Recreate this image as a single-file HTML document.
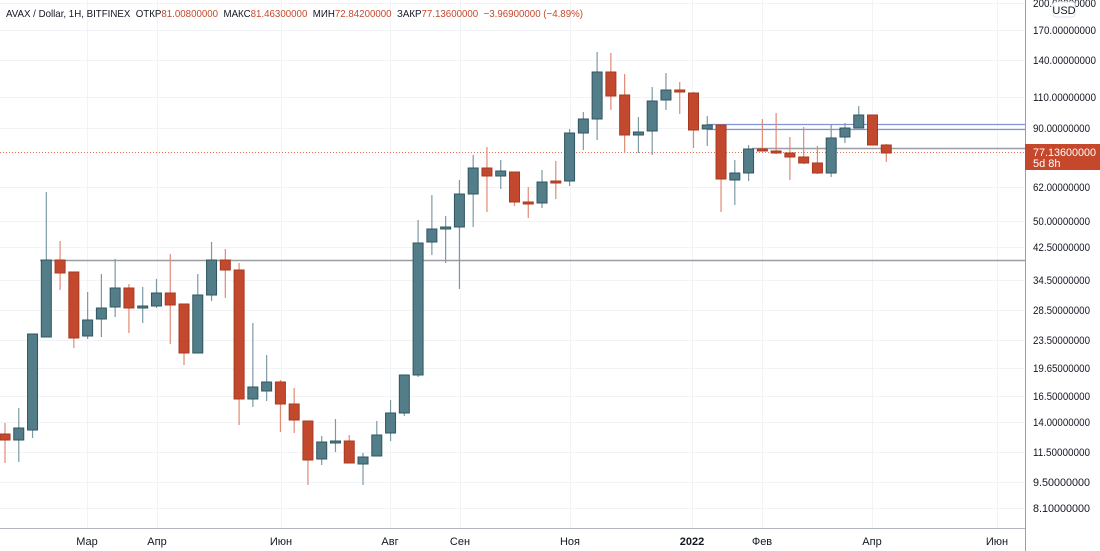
<!DOCTYPE html>
<html><head><meta charset="utf-8"><style>
html,body{margin:0;padding:0;background:#fff;width:1100px;height:551px;overflow:hidden}
svg{display:block;font-family:"Liberation Sans",sans-serif}
</style></head><body>
<svg id="s" width="1100" height="551" xmlns="http://www.w3.org/2000/svg">
<rect width="1100" height="551" fill="#fff"/>
<g id="grid" stroke="#f1f3f6" stroke-width="1"></g>
<g id="lines"></g>
<g id="candles"></g>
<line x1="1025.5" y1="0" x2="1025.5" y2="551" stroke="#9b9ea5" stroke-width="1"/>
<line x1="0" y1="528.5" x2="1025" y2="528.5" stroke="#b2b5be" stroke-width="1"/>
<g id="ylab" font-size="11" fill="#131722"></g>
<g id="xlab" font-size="11" fill="#131722" text-anchor="middle"></g>
<rect x="1053" y="2" width="22" height="15" rx="3" fill="#fff" stroke="#e0e3eb"/>
<text x="1064" y="14" font-size="11" fill="#131722" text-anchor="middle">USD</text>
<rect x="1025" y="144" width="75" height="26" fill="#c5482c"/>
<text x="1033" y="156" font-size="11" fill="#fff" textLength="63" lengthAdjust="spacingAndGlyphs">77.13600000</text>
<text x="1033" y="167" font-size="11" fill="#fff">5d 8h</text>
<text x="6" y="17" font-size="10.5" fill="#131722" textLength="577" lengthAdjust="spacingAndGlyphs" xml:space="preserve">AVAX / Dollar, 1H, BITFINEX  ОТКР<tspan fill="#c5482c">81.00800000</tspan>  МАКС<tspan fill="#c5482c">81.46300000</tspan>  МИН<tspan fill="#c5482c">72.84200000</tspan>  ЗАКР<tspan fill="#c5482c">77.13600000  −3.96900000 (−4.89%)</tspan></text>
</svg>
<script>
var NS="http://www.w3.org/2000/svg";
function el(p,t,a,txt){var e=document.createElementNS(NS,t);for(var k in a)e.setAttribute(k,a[k]);if(txt!=null)e.textContent=txt;document.getElementById(p).appendChild(e);return e;}
var yl=[["200.00000000",3],["170.00000000",30],["140.00000000",60],["110.00000000",97],["90.00000000",128],["62.00000000",187],["50.00000000",221],["42.50000000",247],["34.50000000",280],["28.50000000",310],["23.50000000",340],["19.65000000",368],["16.50000000",396],["14.00000000",422],["11.50000000",452],["9.50000000",482],["8.10000000",508]];
yl.forEach(function(a){el("grid","line",{x1:0,x2:1025,y1:a[1]+.5,y2:a[1]+.5});el("ylab","text",{x:1033,y:a[1]+4,textLength:a[0].length==12?63:57,lengthAdjust:"spacingAndGlyphs"},a[0]);});
var xl=[["Мар",87],["Апр",157],["Июн",281],["Авг",390],["Сен",460],["Ноя",570],["2022",692],["Фев",762],["Апр",872],["Июн",997]];
xl.forEach(function(a){el("grid","line",{x1:a[1]+.5,x2:a[1]+.5,y1:0,y2:528});var t=el("xlab","text",{x:a[1],y:545},a[0]);if(a[0]=="2022")t.setAttribute("font-weight","bold");});
el("lines","line",{x1:40,x2:1025,y1:260.5,y2:260.5,stroke:"#9a9da3","stroke-width":1.5});
el("lines","line",{x1:752,x2:1025,y1:148.5,y2:148.5,stroke:"#9a9da3","stroke-width":1.5});
el("lines","line",{x1:707,x2:1025,y1:124.5,y2:124.5,stroke:"#7f95d6","stroke-width":1.3});
el("lines","line",{x1:707,x2:1025,y1:129.5,y2:129.5,stroke:"#7f95d6","stroke-width":1.3});
el("lines","line",{x1:0,x2:1025,y1:152.5,y2:152.5,stroke:"#e0704e","stroke-width":1,"stroke-dasharray":"1,2"});
var C=[[434,440,423,463],[440,428,408,462],[430,334,334,438],[337,260,192,337],[260,273,241,290],[272,338,272,348],[336,320,292,339],[319,308,274,337],[307,288,259,317],[288,308,284,333],[308,306,287,323],[306,293,279,308],[293,305,254,344],[304,353,304,365],[353,295,274,353],[295,260,242,301],[260,270,249,298],[270,399,263,425],[399,387,323,407],[391,382,355,401],[382,404,380,432],[404,420,388,433],[421,460,421,485],[459,442,436,465],[443,441,419,452],[441,463,435,463],[464,457,453,485],[456,435,421,456],[433,413,400,441],[413,375,375,416],[375,243,220,377],[242,229,195,255],[229,227,216,263],[227,194,180,289],[194,168,155,227],[168,176,147,212],[176,171,160,189],[172,202,172,206],[202,203,187,218],[203,182,170,208],[181,183,161,199],[181,133,129,186],[133,119,112,150],[119,72,52,140],[72,96,53,110],[95,135,74,153],[135,132,117,153],[131,101,87,155],[100,90,73,110],[90,92,82,114],[93,130,92,148],[129,125,116,146],[125,179,125,212],[180,173,160,205],[173,149,145,181],[149,151,119,151],[151,153,113,154],[153,157,137,180],[157,163,127,164],[163,173,146,174],[173,138,124,177],[137,128,123,143],[128,115,106,128],[115,145,115,145],[145,153,144,162]];
C.forEach(function(c,i){
 var x=5+13.77*i, up=c[1]<c[0];
 var fill=up?"#537d89":"#c3492e", st=up?"#2f5661":"#a8391f", wk=up?"#7d9aa3":"#e08a74";
 el("candles","line",{x1:x,x2:x,y1:c[2],y2:c[3],stroke:wk,"stroke-width":1.2});
 var t=Math.min(c[0],c[1]),h=Math.max(2,Math.abs(c[0]-c[1]));
 el("candles","rect",{x:x-5,y:t,width:10,height:h,fill:fill,stroke:st,"stroke-width":1});
});
</script>
</body></html>
